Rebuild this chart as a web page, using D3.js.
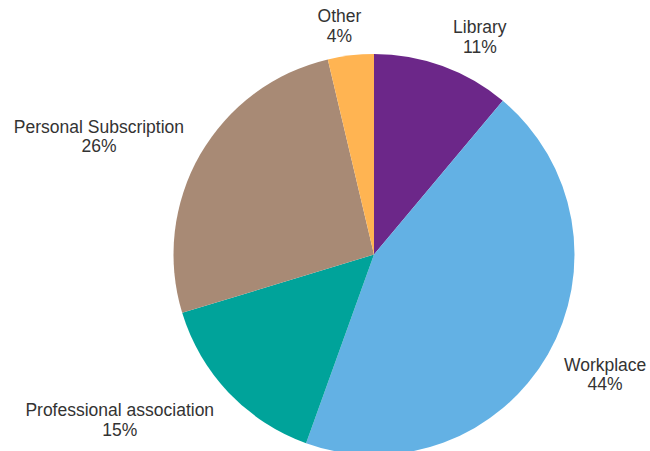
<!DOCTYPE html>
<html>
<head>
<meta charset="utf-8">
<script src="https://cdn.jsdelivr.net/npm/d3@7"></script>
<style>
    body { margin: 0; background: #fff; }
    text { font-family: "Liberation Sans", Arial, sans-serif; fill: #333; }
</style>
</head>
<body>
<div id="chart-area"></div>
<script>
// Values (shares of the pie, clockwise from 12 o'clock)
var categories = ["Library", "Workplace", "Professional association", "Personal Subscription", "Other"];
var shares = [11.1, 44.4, 14.8, 26.0, 3.7];
var colors = ["#6c2789", "#63b1e4", "#00a39a", "#a88a75", "#ffb452"];

var width = 650,
    height = 451;
var cx = 374, cy = 254.5, radius = 200.5;

var data = categories.map(function(c, i) {
    return {name: c, value: shares[i], color: colors[i]};
});

var svg = d3.select("#chart-area")
    .append("svg")
    .attr("width", width)
    .attr("height", height);

var g = svg.append("g")
    .attr("transform", "translate(" + cx + "," + cy + ")");

var pie = d3.pie()
    .sort(null)
    .value(function(d) { return d.value; });

var arc = d3.arc()
    .innerRadius(0)
    .outerRadius(radius);

var arcs = pie(data);

g.selectAll("path")
    .data(arcs)
    .enter()
    .append("path")
    .attr("d", arc)
    .attr("fill", function(d) { return d.data.color; });

// labels: text box pushed just outside the rim, at the slice's mid angle
var labelR = radius + 10.5;
var fontSize = 17.5, lineGap = 19.7;

var labels = g.selectAll(".label")
    .data(arcs)
    .enter()
    .append("text")
    .attr("class", "label")
    .attr("text-anchor", "middle")
    .style("font-size", fontSize + "px");

labels.append("tspan")
    .attr("x", 0)
    .attr("dy", 0)
    .text(function(d) { return d.data.name; });

labels.append("tspan")
    .attr("x", 0)
    .attr("dy", lineGap)
    .text(function(d) { return Math.round(d.data.value) + "%"; });

labels.attr("transform", function(d) {
    var a = (d.startAngle + d.endAngle) / 2;
    var w = d3.max(d3.select(this).selectAll("tspan").nodes(), function(n) {
        return n.getComputedTextLength();
    }) + 14;
    var sx = Math.max(-1, Math.min(1, Math.sin(a) * 3));
    var sy = Math.max(-1, Math.min(1, -Math.cos(a) * 1.4));
    var px = Math.sin(a) * labelR + sx * w / 2;
    var py = -Math.cos(a) * labelR + sy * 20;
    // py is the box centre; first baseline sits a little above it
    return "translate(" + px + "," + (py - 2.85) + ")";
});
</script>
</body>
</html>
